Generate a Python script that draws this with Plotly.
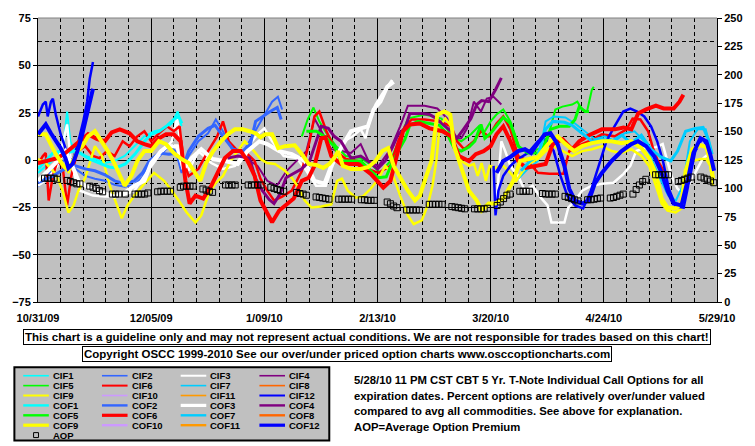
import pandas as pd
import plotly.graph_objects as go

# ---------------- DATA ----------------
START = "2009-10-31"
END = "2010-05-29"
tick_dates = ["2009-10-31", "2009-12-05", "2010-01-09", "2010-02-13", "2010-03-20", "2010-04-24", "2010-05-29"]
tick_labels = ["10/31/09", "12/05/09", "1/09/10", "2/13/10", "3/20/10", "4/24/10", "5/29/10"]

# x values are days after 10/31/09; None breaks a line
CIF1_days = [0, 2.4, 5, 7, 8, 9, 10, 11.5, 14.6, 17.6, 20.7, 23.7, 26.8, 29.8, 32.9, 36, 39, 41.4, 43.2, 44.4]
CIF1_vals = [-6.8, -3.1, 0.5, 4.7, 9.9, 25.6, 9.9, 4.7, 2.1, 0.5, -1.6, -0.5, 2.1, 7.3, 12.5, 15.2, 16.2, 19.3, 25.6, 17.8]

CIF2_days = [0, 4, 8.5, 11.6, 14.6, 17.6, 20.7, 23.7, 26.8, 29.8, 32.3, 34.4, 37.4, 40.5, 42.6, 44.4, 46.6, 49.6, 52.6, 55, 57.2, 60.3, 63.3, 66.3, 68.8, 70.9, 72.4, 74.2, 75.5]
CIF2_vals = [-14, -6, 0.5, -4.7, -8.4, -9.9, -11, -13.1, -14.1, -13.1, -8.9, -1.6, 1.6, 7.3, 4.7, -6.8, 2.1, 9.9, 14.1, 21.4, 15.2, 4.7, 3.7, 12.5, 20.4, 26.7, 30.8, 33.4, 26.7]

CIF3_days = [0, 3, 6, 9, 10.3, 13, 17, 20.7, 25.3, 29.8, 34.4, 38, 41.4, 43, 44.4, 46.6, 49.6, 53.6, 57.2, 60.9,
             64.8, 67.9, 70, 72.4, 76, 80, 83, 86, 89, 91.6, 94.6, 97.4, 99.8, 101.3, 102.9, 104.4, 106.5, 108.3, 109.5,
             None,
             141.5, 142.4, 143.3, 144.5, 146.1, 148.5, 150.6, 153, 155.5, 157.6, 158.8, 162.8, 164, 166.1, 168.3, 171.3,
             174.4, 178, 181.1, 183.2, 185, 187.5, 191.1, 193.2, 194.4, 195.9, 197.8, 199.6, 201.5, 203.3, 205.5, 207.3, 208.5]
CIF3_vals = [-13.6, -9.9, -3.1, 18.8, -3.1, -16.2, -18.8, -19.3, -19.3, -16.2, -4.7, 3.7, 9.9, 21.9, 4.7, -5.7, 4.7, -1.6, -4.7, -3.1,
             6.8, 13.6, 16.7, 9.9, 2.1, 1, -5.7, -13.6, -13.6, -0.5, 9.9, 12.5, 16.2, 11.5, 23, 29.3, 35, 39.7, 42.3,
             None,
             -29.3, -8.4, 9.9, 4.7, -3.1, -8.4, -16.2, -13.6, -19.9, -24, -33, -33, -25.1, -21.4, -16.2, -13.6,
             -12.5, -12, -7.3, -3.1, 4.7, 6.3, 6.8, 8.4, 0.5, -8.4, -15.2, -17.8, -12.5, -6.8, 0.5, 3.1, -4.2]

CIF4_days = [63.3, 67.9, 70.9, 73.9, 76.9, 80, 83, 85.5, 87.6, 90.7, 93.7, 96.8, 99.8, 102.2, 105.3, 109, 112, 114.4, 119.6, 123.5,
             126.6, 128.7, 130.9, 132.7, 134.8, 137, 138.8, 140.9, 143.3]
CIF4_vals = [2.1, -3.1, -11, -13.6, -5.7, -0.5, 4.7, 21.9, 15.2, 5.7, 4.7, 3.7, 8.4, -0.5, -3.1, 5.7, 17.8, 28.7, 28.7, 27.2,
             21.9, 11.5, 11.5, 16.7, 30.8, 25.6, 32.4, 33.4, 29.3]

CIF5_days = [81.6, 83.4, 85.2, 87, 89.2, 92.2, 95.2, 99.8, 103.5, 105.9, 109, 111.4, 114.4, 119.6, 124.8, 127.8, 130.9, 133.9,
             136.3, 137.8, 140, 141.8, 143.9, 146.1, 149.1, 153, 157, 160, 162.2, 165.2, 166.8, 168.3, 169.8, 171.3, 171.9]
CIF5_vals = [12.5, 21.4, 27.7, 20.4, 14.1, 7.3, 2.1, 1, -3.1, -6.8, -0.5, 9.9, 21.9, 24, 21.9, 12.5, 9.9, 13.6,
             17.8, 14.1, 20.4, 24, 26.7, 20.4, 5.7, 4.7, 7.3, 26.7, 28.2, 29.3, 30.8, 26.7, 25.6, 37.1, 38.7]

CIF6_days = [0, 1.5, 2.4, 3.3, 4.6, 6, 7.6, 9, 10.3, 12.2, 14.6, 17, 19, 21.3, 23.7, 26.2, 28.3, 30.7, 32.9, 35,
             37.4, 39.9, 42, 43.8, 45, 46.6, 49.6, 52.6, 55.4, 57.2, 59, 61.8, 64.8, 67, 68.8, 70.9, 73, 75.5, 78.5, 81.6,
             84, 85.5, 87, 89.2, 92.2, 95.2, 98.9, 102, 105.3, 109, 111.4, 113.5, 115.6, 119.6, 124.2, 127.8, 129.6, 131.8, 134.8, 137,
             139.4, 141.8, 143.9, 146.1, 148.5, 151.5, 154.6, 158.2, 162.5, 164.3, 166.8, 170.4, 174.4, 178.4, 182, 183.9, 186.3, 188.7,
             190.2, 191.7, 193.5]
CIF6_vals = [-2.1, 2.1, 3.7, -21.4, -8.4, -0.5, -3.1, -24, -8.4, 4.7, 7.3, 2.1, 1, 4.7, 2.1, 9.9, 7.3, 12.5, 15.2, 9.9,
             14.1, 17.8, 15.2, 17.8, -0.5, -8.4, -4.7, 4.7, 12.5, 20.4, 9.9, 4.7, 3.1, -0.5, -9.9, -16.2, -21.4, -19.3, -16.2, -5.7,
             9.9, 23, 25.6, 15.2, 4.7, 0.5, -0.5, -4.7, -6.8, -3.1, 9.9, 17.8, 21.4, 21.4, 20.4, 17.8, 9.9, 5.7, 9.9, 15.2,
             12.5, 19.3, 23, 16.2, 2.1, -0.5, -6.8, -7.3, -7.3, 4.7, 7.3, 9.9, 13.6, 12.5, 16.2, 21.9, 21.4, 15.2,
             6.3, -0.5, -5.7]

CIF7_days = [148.5, 151.5, 154.6, 157, 159.5, 163.1, 166.1, 169.2, 172.2, 175.3, 178.4, 181.4, 184.5, 187.5, 190, 192.4, 194.9,
             197.3, 199.4, 201.6, 204, 206.5, 208.3]
CIF7_vals = [-9.9, -4.7, -0.5, 20.4, 23, 22.5, 19.3, 15.2, 11, 12.5, 9.9, 14.1, 15.2, 9.9, -0.5, -9.9, -18.8,
             -21.4, -13.6, 9.9, 16.2, 16.2, 4.7]

CIF8_days, CIF8_vals = [], []

CIF9_days = [0, 2.4, 5.5, 7.6, 9.4, 11, 12.5, 14.6, 17.6, 19.8, 22.2, 24.3, 25.9, 27.7, 29.8, 32.9, 35.9, 39, 41.4, 43.5,
             46, 48.7, 50.5, 52.6, 54.8, 57.2, 59.6, 61.8, 63.9, 66.3, 68.8, 70.9, 73.3, 76.4, 78.5, 80.6, 82.5, 84.6, 87.6, 90.7,
             92.5, 94, 95.8, 98.3, 100.4, 102.9, 105.3, 107.4, 109.5, 112, 114.4, 116.2, 118.7, 120.5, 122, 123.2, 124.2, 126, 127.8, 129,
             130.9, 133.3, 134.8, 136, 137.2, 138.5, 139.7, 141.5, 143.9, 146.1, 147.9, 150, 152.2, 154.6, 157, 159.5, 162.2, 165.2, 168.3, 171.3,
             174.4, 177.4, 180.5, 183.5, 186.6, 189, 191.1, 192.9, 194.7, 197.2, 199, 200.3, 202.4, 204.9, 206.7, 207.9, 208.8]
CIF9_vals = [0.5, -1.6, -7.3, -16.2, -27.7, -24, -16.2, -9.4, 7.3, 2.1, -13.6, -24, -30.8, -24, -18.8, -12.5, -6.8, -11, -16.2, -21.4,
             -27.7, -33, -29.3, -18.8, -12.5, -8.4, -0.5, 4.7, 9.9, 5.7, 0.5, -1.6, -2.1, -5.7, -9.4, -14.6, -21.4, -25.1, -24.6, -23.5,
             -11, -9.9, -16.2, -19.9, -19.3, -15.2, -9.9, -3.1, -6.8, -18.8, -29.3, -33.9, -31.9, -24, -13.6, -0.5, 17.8, 21.9, 17.8, 4.7,
             -0.5, -3.1, -2.1, -8.4, -1.6, -11, -3.1, -4.2, -3.1, -6.8, -11, -5.7, -1.6, 0.5, 4.7, 7.3, 4.7, 2.1, 4.7, 5.7,
             7.3, 4.7, 3.7, 5.7, 2.1, -3.1, -13.6, -23, -26.7, -27.7, -25.6, -11, -0.5, 0.5, 0.5, -3.1, -13.6]

CIF10_days, CIF10_vals = [], []
CIF11_days, CIF11_vals = [], []

CIF12_days = [0, 1.5, 2.4, 3, 4, 4.6, 5.5, 7, 8.5, 10, 11, 12.5, 14, 15.2, 16, 17,
              None,
              140.9, 141.5, 142.4, 143.9, 146.1, 148.5, 151.5, 154.6, 157, 159.5, 161.6, 163.7, 166.1, 168.6, 171, 173.4,
              175.8, 178.3, 181, 183.2, 185.3, 187.5, 189.6, 191.5, 193.3, 195.1, 197.3, 199.7, 201.5, 203.3, 205.5, 207.3, 208.8]
CIF12_vals = [23, 29.3, 30.8, 23, 30.8, 32.4, 24, 13.6, 6.3, -0.5, 1, 9.9, 20.4, 30.8, 42.9, 51.7,
              None,
              -3.1, -29.3, -16.2, -8.4, -3.1, 0.5, 3.7, 9.9, 11, 4.7, -8.4, -18.8, -24, -25.6, -16.2, -3.1,
              9.9, 17.8, 25.6, 27.2, 25.6, 23, 17.8, 9.9, -0.5, -15.2, -24.6, -25.1, -11, 4.7, 11.5, 6.3, -2.1]

COF1_days = [0, 2.4, 4.6, 7, 9, 11, 13, 16, 19, 22, 24, 27, 30, 33, 35, 37.5, 40, 42, 43.5, 44.5]
COF1_vals = [-4.7, -0.5, 3.7, 4.7, 3.7, 4.7, 3.7, 0.5, -1.6, -3.7, -4.2, -2.1, 3.1, 9.9, 13.6, 15.2, 18.3, 21.4, 23, 19.3]

COF2_days = [0, 4, 8, 11.6, 14.6, 17.6, 20.7, 23.7, 26.8, 29.8, 32.3, 34.4, 37.4, 40.5, 43.5, 45, 46.6, 49.6, 52.6, 54.8,
             57.2, 60.3, 63.3, 65.7, 67.3, 69.4, 71.8, 74, 75.2]
COF2_vals = [-12, -9, -5, -3.1, -4.7, -5.7, -7.8, -11, -12.5, -11, -6.8, -0.5, 3.7, 3.1, 3.7, -3.1, 4.7, 12.5, 16.7, 18.3,
             12.5, 5.7, 4.7, 8.4, 20.4, 23, 25.6, 27.7, 21.4]

COF3_days = [0, 2.4, 5.5, 8.5, 10, 12.5, 16, 19.8, 23.7, 26.8, 29.8, 32.9, 35, 38, 40, 43, 45, 47.5, 50.5, 54,
             57.8, 61.8, 64.8, 68.5, 70.9, 74.6, 78.5, 82.5, 85.5, 88.6, 90.7, 93.7, 96.8, 99.8, 102, 103.8, 105.9, 108, 110]
COF3_vals = [-11, -6.8, -1.6, 4.7, -0.5, -11, -15.2, -17.2, -19.3, -17.2, -13.6, -11, -1.6, 4.7, 7.3, 7.3, -4.7, 1, 5.7, 0.5,
             -0.5, -2.1, 4.7, 9.9, 8.4, 4.7, 3.1, -0.5, -11, -12.5, -3.1, 6.3, 15.2, 16.7, 17.8, 26.7, 30.8, 38.7, 41.3]

COF4_days = [58.7, 61.8, 65.4, 67.3, 69.4, 71.5, 73, 74.9, 76.7, 79.1, 81.6, 84, 86.1, 87.6, 89.8, 91.6, 93.7, 96.8, 99.8, 102,
             105, 107.4, 109.5, 111.4, 113.5, 115, 118.7, 121.1, 123.2, 124.8, 127.8, 129.6, 131.8, 133.9, 135.7, 137.2, 139.4, 141.5, 143.3]
COF4_vals = [1, 2.1, 1, -9.9, -16.2, -20.9, -23, -17.8, -9.4, -7.3, -4.7, -0.5, 9.9, 17.8, 16.7, 12.5, 9.9, 1, 2.1, -0.5,
             -4.7, -0.5, 6.3, 13.6, 16.7, 24.6, 24.6, 24, 21.9, 19.3, 15.2, 11.5, 16.7, 21.9, 29.3, 31.4, 30.8, 37.1, 43.4]

COF5_days = [83, 86.1, 88.6, 91.6, 93.7, 99.8, 102.9, 105.3, 107.7, 109.5, 111.4, 113.5, 115, 117.5, 121.1, 124.2, 126.6, 128.7,
             130.9, 133.3, 135.1, 137, 138.2, 140, 142.4, 143.9, 146.1, 148.5, 151.5, 155.5, 158.5, 161.3, 164.3, 166.1, 167.4, 169.2, 170.4]
COF5_vals = [15.2, 15.2, 12.5, 7.3, -0.5, -0.5, -5.7, -9.4, -8.9, -1.6, 4.7, 11, 18.3, 20.4, 19.3, 18.3, 13.6, 6.3,
             4.7, 6.8, 9.9, 18.8, 11.5, 14.1, 19.3, 22.5, 19.3, 7.3, 3.7, 3.7, 16.2, 17.8, 17.8, 21.4, 28.2, 25.6, 25.6]

COF6_days = [0, 3, 6, 8.5, 10.7, 13, 15.5, 18.3, 20.7, 22.8, 25.3, 28.3, 30.7, 32.9, 35, 37.4, 39.6, 42, 44.1, 45.6,
             46.9, 48.7, 51.1, 53.6, 55.7, 57.8, 60.3, 62.7, 64.8, 67, 68.8, 70.9, 72.4, 74.6, 77, 79.1, 81.6, 83.7, 85.5, 87.6,
             88.9, 90.7, 93.7, 98.9, 102.9, 106.8, 109, 111, 112.9, 115, 118.1, 121.1, 125.1, 127.8, 130.2, 133.3, 135.4, 137.8, 140, 141.8,
             143.9, 146.1, 148.5, 150.9, 154.6, 157, 159.2, 162.2, 165.2, 167.4, 170.4, 174.4, 178.4, 181.1, 183.5, 185.6, 188.1, 191.1,
             193.5, 196.6, 198.4, 199.6]
COF6_vals = [-1.6, -0.5, 1, 3.7, 6.8, 9.9, 13.6, 11, 9.9, 14.6, 16.2, 14.1, 9.9, 8.4, 7.3, 11.5, 13.6, 13.6, 9.9, -11,
             -23, -18.8, -20.4, -13.6, -5.7, 1, 4.7, 4.7, -0.5, -8.4, -21.4, -28.2, -32.9, -26.7, -23, -20.4, -11, -9.4, -3.1, 11.5,
             12, 2.1, -2.1, -2.1, -7.3, -14.6, -11, 3.1, 15.2, 18.8, 19.3, 16.7, 15.2, 12.5, 2.1, -0.5, 3.1, 4.7, 7.3, 13.6,
             17.8, 9.9, -0.5, -4.2, -3.1, -2.1, 8.4, 11, 5.7, 9.9, 13.1, 16.2, 16.2, 17.2, 16.2, 24.6, 26.7, 28.7,
             27.2, 27.2, 30.8, 34.5]

COF7_days = [149.4, 152.2, 154.6, 157, 159.2, 162.8, 165.2, 168.3, 171.3, 174.4, 177.4, 180.5, 183.5, 186.6, 189.6, 192.6,
             195.7, 197.8, 200.3, 203.3, 205.7, 207.3, 208.5]
COF7_vals = [-5.7, -0.5, 2.1, 16.2, 20.4, 19.9, 18.3, 14.1, 9.9, 11, 9.9, 13.1, 8.9, 13.1, 5.7, 1.6,
             -0.5, 4.7, 15.2, 16.7, 17.2, 11, 3.1]

COF8_days, COF8_vals = [], []

COF9_days = [0, 2.4, 5.5, 7.9, 9.4, 10.7, 12.2, 13.7, 15.5, 17.6, 19.8, 21.6, 23.7, 25.9, 26.8, 28.9, 30.7, 32.9, 35, 37.4,
             39.6, 42, 44.4, 46.6, 48.7, 50.2, 52, 54.2, 56.6, 58.7, 60.9, 63.3, 65.4, 67.3, 68.8, 70.3, 72.4, 74.3, 76.4, 79.4,
             81.6, 83.7, 86.1, 88.2, 90.1, 91.6, 92.8, 94.3, 96.8, 99.8, 102.2, 104.4, 106.5, 108.3, 110, 112, 114.4, 116.6, 118.1, 119.9,
             121.7, 122.6, 123.5, 125.7, 127.5, 128.7, 130.9, 133.3, 135.7, 137.2, 139.4, 141.5, 143.9, 145.5, 147, 149.1, 151.5, 154.6, 156, 158.5,
             160.7, 162.8, 165.8, 168.3, 171.3, 174.4, 177.4, 180.5, 183.5, 186.6, 189, 191.1, 192.9, 194.7, 197.2, 199, 200.3, 202.4, 204.9, 206.7,
             207.9, 208.8]
COF9_vals = [13.6, 13.6, 3.1, -3.1, -5.7, -0.5, 4.7, 7.3, 12.5, 15.2, 9.9, 4.7, -2.1, -11, -13.6, -8.4, -0.5, 4.7, 4.7, 9.9,
             8.4, 3.7, 0.5, -1.6, -6.8, -11, -1.6, 4.7, 9.9, 13.6, 16.2, 16.2, 15.2, 14.1, 12, 13.6, 13.6, 6.3, 7.3, 7.8,
             3.1, -2.1, -2.6, -4.2, -2.1, 1, 4.7, -3.1, -4.7, -4.7, -3.7, -0.5, 4.7, 6.3, -3.1, -9.4, -16.2, -21.4, -18.8, -9.4,
             -0.5, 12.5, 24, 25.6, 24, 7.3, -4.2, -16.2, -21.4, -26.7, -23, -23, -20.4, -15.2, -11, -0.5, 0.5, 1.6, 4.7, 9.9,
             12.5, 8.9, 4.7, 7.3, 8.9, 9.9, 9.9, 8.9, 9.9, 6.3, 1, -7.3, -20.4, -25.1, -25.6, -23, -5.7, 5.7, 7.8, 6.8,
             -0.5, -9.9]

COF10_days, COF10_vals = [], []
COF11_days, COF11_vals = [], []

COF12_days = [0, 1.5, 2.4, 4, 5.5, 7, 8.5, 9.4, 10.7, 12.2, 13.7, 15.2, 16.1, 17,
              None,
              141.8, 143.9, 146.1, 148.5, 150.6, 152.5, 154.6, 156.7, 158.5, 160.7, 162.8, 164.3, 166.1, 168.3, 170.4, 172.2, 174.4,
              177.4, 180.5, 183.5, 185.6, 188.1, 190.5, 192.6, 194.7, 196.6, 199, 200.9, 202.7, 204.9, 206.7, 207.9, 209.1]
COF12_vals = [13.6, 16.7, 18.8, 14.1, 9.9, 6.3, 1, -4.2, -2.1, 4.7, 13.6, 24, 30.8, 37.6,
              None,
              -6.8, -0.5, 1.6, 4.7, 5.7, 3.7, 8.9, 13.6, 14.1, 8.4, -3.1, -15.2, -21.4, -23, -21.4, -12.5, -6.8,
              -0.5, 4.7, 8.4, 9.9, 7.3, 2.1, -5.7, -16.2, -23, -24, -11, 3.7, 11.5, 9.9, 3.1, -5.7]

# Average Option Premium, one value per trading day (right axis)
AOP_vals = [109, 109, 109, 109, 108,   107, 106, 105, 104, 104,   102, 101, 100, 98, 97,   95, 95, 95, 95,
            95, 95, 95, 95, 96,   97, 97.5, 97.5, 97.5, 97.5,   101, 102, 102, 102, 102,   99.5, 98.5, 97.5, 96.5,
            103, 103, 103, 103,   103, 103, 103, 103, 103,   101, 100, 99, 98, 97.5,   96.5, 95.5, 95, 94,
            92.5, 92, 91.5, 91, 90.5,   90.5, 90.5, 90.5, 90.5, 90.5,   90, 90, 89.5, 89.5, 89.5,   88, 86.5, 84.5, 83,
            81, 81, 81, 81, 81,   86, 86, 86, 86, 86,   84, 83.5, 83, 82.5, 82,   82, 82, 82, 82, 82.5,
            85, 88, 91, 94, 95,   97.5, 97.5, 97.5, 97.5,   95.5, 95, 95, 95, 95,   93, 92, 91, 90, 89,
            90, 90, 90.5, 91, 91.5,   91.5, 92, 93, 94, 95,   95, 99, 103, 106, 108,   112, 112, 112, 112, 112,
            106, 107, 108, 109, 110,   110, 109, 108, 106.5, 105]
holidays = ["2009-11-26", "2009-12-25", "2010-01-01", "2010-01-18", "2010-02-15", "2010-04-02"]

# ---------------- FIGURE ----------------
FONT = "Liberation Sans, Arial, sans-serif"
W, H = 755, 446
L, R, T, B = 32, 722, 15, 302
base = pd.Timestamp(START)


def to_x(days):
    return [None if d is None else (base + pd.Timedelta(days=d)).strftime("%Y-%m-%d %H:%M") for d in days]


def px(x):
    return (x - L) / (R - L)


def py(y):
    return (B - y) / (B - T)


def bfont(size):
    return dict(family=FONT, size=size, color="black", weight="bold")


colors = ["#00FFFF", "#3366FF", "#FFFFFF", "#800080", "#00FF00", "#FF0000",
          "#00CCFF", "#FF6600", "#FFFF00", "#CC99FF", "#FF9900", "#0000FF"]
cif_data = [(CIF1_days, CIF1_vals), (CIF2_days, CIF2_vals), (CIF3_days, CIF3_vals), (CIF4_days, CIF4_vals),
            (CIF5_days, CIF5_vals), (CIF6_days, CIF6_vals), (CIF7_days, CIF7_vals), (CIF8_days, CIF8_vals),
            (CIF9_days, CIF9_vals), (CIF10_days, CIF10_vals), (CIF11_days, CIF11_vals), (CIF12_days, CIF12_vals)]
cof_data = [(COF1_days, COF1_vals), (COF2_days, COF2_vals), (COF3_days, COF3_vals), (COF4_days, COF4_vals),
            (COF5_days, COF5_vals), (COF6_days, COF6_vals), (COF7_days, COF7_vals), (COF8_days, COF8_vals),
            (COF9_days, COF9_vals), (COF10_days, COF10_vals), (COF11_days, COF11_vals), (COF12_days, COF12_vals)]

heavy = {2, 5, 8, 11}
entries = []
for i, (d, v) in enumerate(cif_data):
    entries.append(("CIF%d" % (i + 1), colors[i], 2.5 if i in heavy else 2.0, d, v))
for i, (d, v) in enumerate(cof_data):
    entries.append(("COF%d" % (i + 1), colors[i], 4.0 if i in heavy else 3.0, d, v))

fig = go.Figure()
for name, col, wdt, d, v in entries:
    fig.add_trace(go.Scatter(x=to_x(d), y=v, mode="lines", name=name,
                             line=dict(color=col, width=wdt), connectgaps=False,
                             showlegend=False, hoverinfo="skip"))

aop_dates = [dd for dd in pd.bdate_range("2009-11-02", "2010-05-28") if dd.strftime("%Y-%m-%d") not in holidays]
n = min(len(aop_dates), len(AOP_vals))
fig.add_trace(go.Scatter(x=[dd.strftime("%Y-%m-%d") for dd in aop_dates[:n]], y=AOP_vals[:n], mode="markers",
                         name="AOP", yaxis="y2", showlegend=False, hoverinfo="skip",
                         marker=dict(symbol="square-open", size=6, color="black", line=dict(width=1))))

tickfont = bfont(11)
week_ms = 7 * 24 * 3600 * 1000

fig.update_layout(
    width=W, height=H,
    margin=dict(l=L, r=W - R, t=T, b=H - B, pad=0),
    paper_bgcolor="white", plot_bgcolor="#C0C0C0",
    showlegend=False,
    xaxis=dict(type="date", range=[START, END], tickmode="array", tickvals=tick_dates, ticktext=tick_labels,
               tickfont=tickfont, ticks="", ticklabelstandoff=6,
               showgrid=True, gridcolor="black", gridwidth=1,
               minor=dict(tick0=START, dtick=week_ms, showgrid=True, gridcolor="black", gridwidth=1, griddash="4px,3px"),
               showline=True, linecolor="black", linewidth=1, zeroline=False, fixedrange=True),
    yaxis=dict(range=[-75, 75], tick0=0, dtick=25, tickfont=tickfont, ticks="outside", ticklen=4, tickcolor="black",
               showgrid=True, gridcolor="black", gridwidth=1, zeroline=False,
               minor=dict(tick0=0, dtick=12.5, showgrid=True, gridcolor="black", gridwidth=1, griddash="4px,3px"),
               showline=True, linecolor="black", linewidth=1, fixedrange=True),
    yaxis2=dict(range=[0, 250], tick0=0, dtick=25, overlaying="y", side="right", tickfont=tickfont,
                ticks="outside", ticklen=4, tickcolor="black", showgrid=False, zeroline=False,
                showline=True, linecolor="black", linewidth=1, fixedrange=True),
)

shapes = [dict(type="line", xref="paper", yref="paper", x0=0, x1=1, y0=1, y1=1, line=dict(color="#808080", width=1))]
annotations = []

# disclaimer boxes
annotations.append(dict(xref="paper", yref="paper", x=px(366), y=py(337.5), xanchor="center", yanchor="middle",
                        text="This chart is a guideline only and may not represent actual conditions. We are not responsible for trades based on this chart!",
                        showarrow=False, font=bfont(11.5),
                        bgcolor="white", bordercolor="black", borderwidth=1, borderpad=1))
annotations.append(dict(xref="paper", yref="paper", x=px(346.5), y=py(355), xanchor="center", yanchor="middle",
                        text="Copyright OSCC 1999-2010 See our over/under priced option charts www.osccoptioncharts.com",
                        showarrow=False, font=bfont(11.5),
                        bgcolor="white", bordercolor="black", borderwidth=1, borderpad=1))

# description text
desc = ["5/28/10 11 PM CST CBT 5 Yr. T-Note Individual Call Options for all",
        "expiration dates. Percent options are relatively over/under valued",
        "compared to avg all commodities. See above for explanation.",
        "AOP=Average Option Premium"]
for k, line in enumerate(desc):
    annotations.append(dict(xref="paper", yref="paper", x=px(352), y=py(381 + 15.7 * k), xanchor="left", yanchor="middle",
                            text=line, showarrow=False, borderpad=0, font=bfont(11.3)))

# legend box
shapes.append(dict(type="rect", xref="paper", yref="paper", x0=px(8), x1=px(328), y0=py(442), y1=py(368),
                   fillcolor="#C0C0C0", line=dict(color="black", width=2), layer="above"))
ROW0, ROWH = 376.5, 10.0
for i, (name, col, wdt, d, v) in enumerate(entries):
    row, cl = divmod(i, 4)
    yy = ROW0 + ROWH * row
    shapes.append(dict(type="line", xref="paper", yref="paper", x0=px(17 + 80 * cl), x1=px(43 + 80 * cl),
                       y0=py(yy), y1=py(yy), line=dict(color=col, width=wdt * 0.8), layer="above"))
    annotations.append(dict(xref="paper", yref="paper", x=px(46 + 80 * cl), y=py(yy), xanchor="left", yanchor="middle",
                            text=name, showarrow=False, borderpad=0, font=bfont(9.5)))
yy = ROW0 + ROWH * 6
shapes.append(dict(type="rect", xref="paper", yref="paper", x0=px(27.5), x1=px(32.5), y0=py(yy + 2.5), y1=py(yy - 2.5),
                   line=dict(color="black", width=1), layer="above"))
annotations.append(dict(xref="paper", yref="paper", x=px(46), y=py(yy), xanchor="left", yanchor="middle",
                        text="AOP", showarrow=False, borderpad=0, font=bfont(9.5)))

fig.update_layout(shapes=shapes, annotations=annotations)
fig.write_html("out.html", config={"displayModeBar": False},
               post_script="document.body.style.margin='0px';document.body.style.padding='0px';")
